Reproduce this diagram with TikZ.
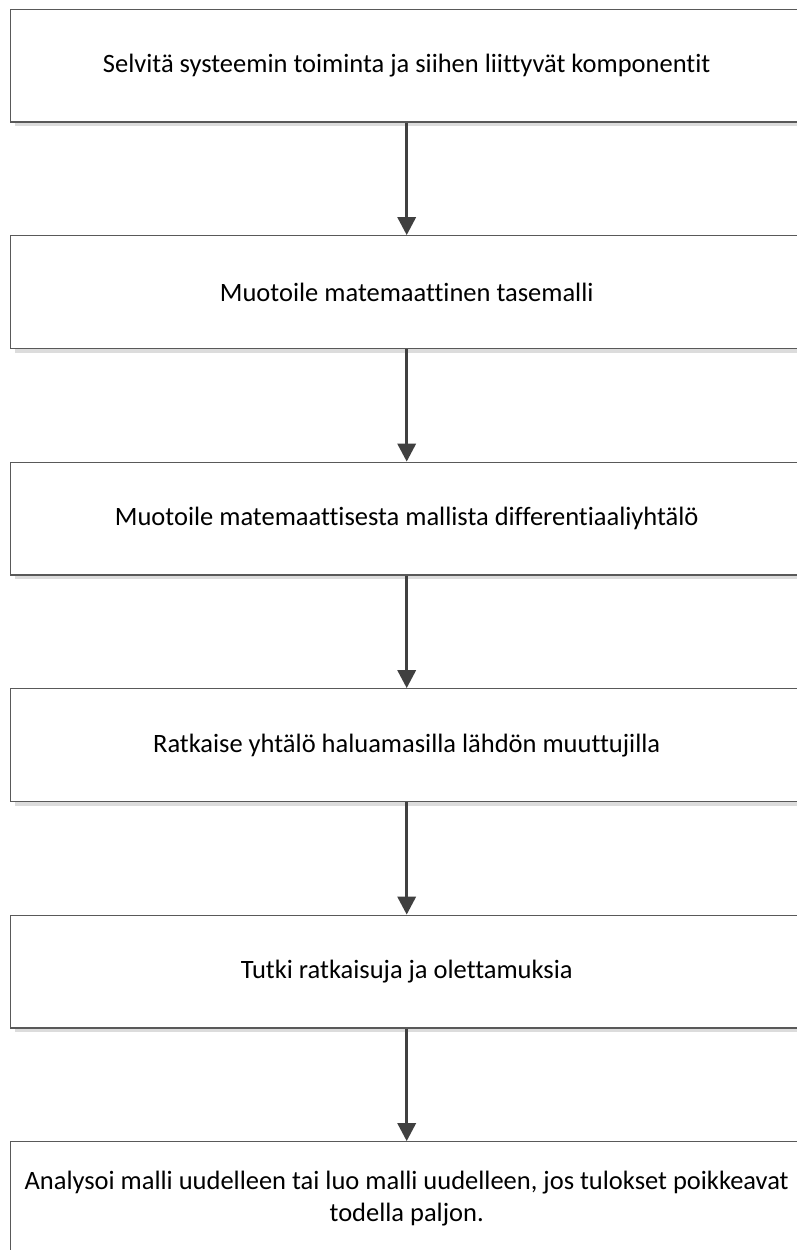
\documentclass[tikz,border=0pt]{standalone}
\usepackage{fontspec}
\setmainfont{Carlito}[Ligatures={NoCommon,NoContextual}]
\usetikzlibrary{arrows.meta,shadows}
\definecolor{boxline}{HTML}{595959}
\definecolor{arrowc}{HTML}{404040}
\definecolor{shadowc}{HTML}{DCDCDC}
\tikzset{
  stepbox/.style={draw=boxline, line width=1.3pt, fill=white,
    minimum width=792pt, minimum height=112.7pt, inner sep=0pt,
    align=center, font=\fontsize{26.5}{32}\selectfont,
    drop shadow={shadow xshift=4pt, shadow yshift=-4pt, fill=shadowc, opacity=1}},
  flow/.style={draw=arrowc, line width=3.3pt, -{Triangle[length=18pt,width=18pt]}}
}
\begin{document}
\begin{tikzpicture}[x=1pt,y=-1pt]
\clip (0,0) rectangle (797,1250);
\fill[white] (0,0) rectangle (797,1250);
\node[stepbox] (s1) at (406.7,65.65) {Selvitä systeemin toiminta ja siihen liittyvät komponentit};
\node[stepbox] (s2) at (406.7,292.15) {Muotoile matemaattinen tasemalli};
\node[stepbox] (s3) at (406.7,518.65) {Muotoile matemaattisesta mallista differentiaaliyhtälö};
\node[stepbox] (s4) at (406.7,745.15) {Ratkaise yhtälö haluamasilla lähdön muuttujilla};
\node[stepbox] (s5) at (406.7,971.65) {Tutki ratkaisuja ja olettamuksia};
\node[stepbox] (s6) at (406.7,1198.15) {Analysoi malli uudelleen tai luo malli uudelleen, jos tulokset poikkeavat\\todella paljon.};
\draw[flow] (s1.south) -- (s2.north);
\draw[flow] (s2.south) -- (s3.north);
\draw[flow] (s3.south) -- (s4.north);
\draw[flow] (s4.south) -- (s5.north);
\draw[flow] (s5.south) -- (s6.north);
\end{tikzpicture}
\end{document}
